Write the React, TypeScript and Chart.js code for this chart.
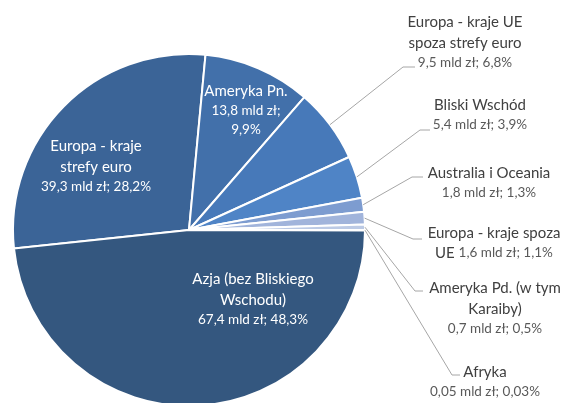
import React, { useEffect, useRef } from "react";
import { Chart, registerables } from "chart.js";

Chart.register(...registerables);

// ---- data ----
const categories = [
  "Europa - kraje strefy euro",
  "Ameryka Pn.",
  "Europa - kraje UE spoza strefy euro",
  "Bliski Wschód",
  "Australia i Oceania",
  "Europa - kraje spoza UE",
  "Ameryka Pd. (w tym Karaiby)",
  "Afryka",
  "Azja (bez Bliskiego Wschodu)",
];
const valuesMld = [39.3, 13.8, 9.5, 5.4, 1.8, 1.6, 0.7, 0.05, 67.4];
const sharesPct = [28.2, 9.9, 6.8, 3.9, 1.3, 1.1, 0.5, 0.03, 48.3];
const labelLines = [
  ["Europa - kraje", "strefy euro"],
  ["Ameryka Pn."],
  ["Europa - kraje UE", "spoza strefy euro"],
  ["Bliski Wschód"],
  ["Australia i Oceania"],
  ["Europa - kraje spoza"],
  ["Ameryka Pd. (w tym", "Karaiby)"],
  ["Afryka"],
  ["Azja (bez Bliskiego", "Wschodu)"],
];
// prefix drawn on the same line as the value text (in label font)
const valuePrefix = ["", "", "", "", "", "UE", "", "", ""];
// value text split into two lines (Ameryka Pn.)
const splitValue = [false, true, false, false, false, false, false, false, false];

const colors = [
  "#3B6497",
  "#4270AA",
  "#4779B9",
  "#4F84C6",
  "#7D9CD0",
  "#A1B4DB",
  "#BCCAE5",
  "#D0DAEE",
  "#34577F",
];

// ---- label layout (text placement only) ----
type LabelLayout = {
  inside: boolean;
  cx: number;
  y: number;
  elbow?: [number, number];
  end?: [number, number];
};
const labelLayout: LabelLayout[] = [
  { inside: true, cx: 96, y: 146 },
  { inside: true, cx: 246, y: 91 },
  { inside: false, cx: 465, y: 22, elbow: [403, 67], end: [415, 67] },
  { inside: false, cx: 480, y: 105, elbow: [420, 130], end: [430, 130] },
  { inside: false, cx: 489, y: 173, elbow: [412, 177], end: [423, 177] },
  { inside: false, cx: 494, y: 233, elbow: [413, 239], end: [422, 239] },
  { inside: false, cx: 495, y: 288, elbow: [415, 291], end: [423, 291] },
  { inside: false, cx: 485, y: 372, elbow: [452, 375], end: [460, 375] },
  { inside: true, cx: 253, y: 279 },
];

const FONT = "Lato, 'Open Sans', sans-serif";
const TITLE_PX = 15;
const VALUE_PX = 13.5;
const fmt = (v: number) => String(v).replace(".", ",");

const labelPlugin = {
  id: "pieLabels",
  afterDatasetsDraw(chart: any) {
    const ctx: CanvasRenderingContext2D = chart.ctx;
    const meta = chart.getDatasetMeta(0);
    ctx.save();
    meta.data.forEach((arc: any, i: number) => {
      const L = labelLayout[i];
      const p = arc.getProps(["x", "y", "startAngle", "endAngle", "outerRadius"], true);
      if (!L.inside && L.elbow && L.end) {
        const mid = (p.startAngle + p.endAngle) / 2;
        const sx = p.x + Math.cos(mid) * p.outerRadius;
        const sy = p.y + Math.sin(mid) * p.outerRadius;
        ctx.beginPath();
        ctx.strokeStyle = "#A6A6A6";
        ctx.lineWidth = 1;
        ctx.moveTo(sx, sy);
        ctx.lineTo(L.elbow[0], L.elbow[1]);
        ctx.lineTo(L.end[0], L.end[1]);
        ctx.stroke();
      }
      const titleColor = L.inside ? "#FFFFFF" : "#404040";
      const valueColor = L.inside ? "#FFFFFF" : "#595959";
      ctx.textBaseline = "middle";
      ctx.textAlign = "center";
      let y = L.y;
      ctx.font = `${TITLE_PX}px ${FONT}`;
      ctx.fillStyle = titleColor;
      labelLines[i].forEach((line, k) => {
        if (k > 0) y += 21;
        ctx.fillText(line, L.cx, y);
      });
      y += 20;
      const money = `${fmt(valuesMld[i])} mld zł;`;
      const pct = `${fmt(sharesPct[i])}%`;
      if (splitValue[i]) {
        ctx.font = `${VALUE_PX}px ${FONT}`;
        ctx.fillStyle = valueColor;
        ctx.fillText(money, L.cx, y);
        y += 19;
        ctx.fillText(pct, L.cx, y);
      } else if (valuePrefix[i]) {
        const pre = valuePrefix[i] + " ";
        const val = `${money} ${pct}`;
        ctx.font = `${TITLE_PX}px ${FONT}`;
        const w1 = ctx.measureText(pre).width;
        ctx.font = `${VALUE_PX}px ${FONT}`;
        const w2 = ctx.measureText(val).width;
        const x0 = L.cx - (w1 + w2) / 2;
        ctx.textAlign = "left";
        ctx.font = `${TITLE_PX}px ${FONT}`;
        ctx.fillStyle = titleColor;
        ctx.fillText(pre, x0, y);
        ctx.font = `${VALUE_PX}px ${FONT}`;
        ctx.fillStyle = valueColor;
        ctx.fillText(val, x0 + w1, y);
        ctx.textAlign = "center";
      } else {
        ctx.font = `${VALUE_PX}px ${FONT}`;
        ctx.fillStyle = valueColor;
        ctx.fillText(`${money} ${pct}`, L.cx, y);
      }
    });
    ctx.restore();
  },
};

export default function App() {
  const ref = useRef<HTMLCanvasElement | null>(null);
  useEffect(() => {
    if (!ref.current) return;
    const chart = new Chart(ref.current, {
      type: "pie",
      data: {
        labels: categories,
        datasets: [
          {
            data: valuesMld,
            backgroundColor: colors,
            borderColor: "#FFFFFF",
            borderWidth: 2,
          },
        ],
      },
      options: {
        responsive: false,
        animation: false,
        rotation: 264,
        layout: { padding: { left: 12, right: 200, top: 53, bottom: 13 } },
        plugins: {
          legend: { display: false },
          tooltip: { enabled: false },
        },
      },
      plugins: [labelPlugin],
    });
    return () => chart.destroy();
  }, []);
  return (
    <div
      style={{
        position: "fixed",
        left: 0,
        top: 0,
        width: 566,
        height: 403,
        overflow: "hidden",
        background: "#FFFFFF",
      }}
    >
      <canvas ref={ref} width={566} height={420} style={{ width: 566, height: 420 }} />
    </div>
  );
}
